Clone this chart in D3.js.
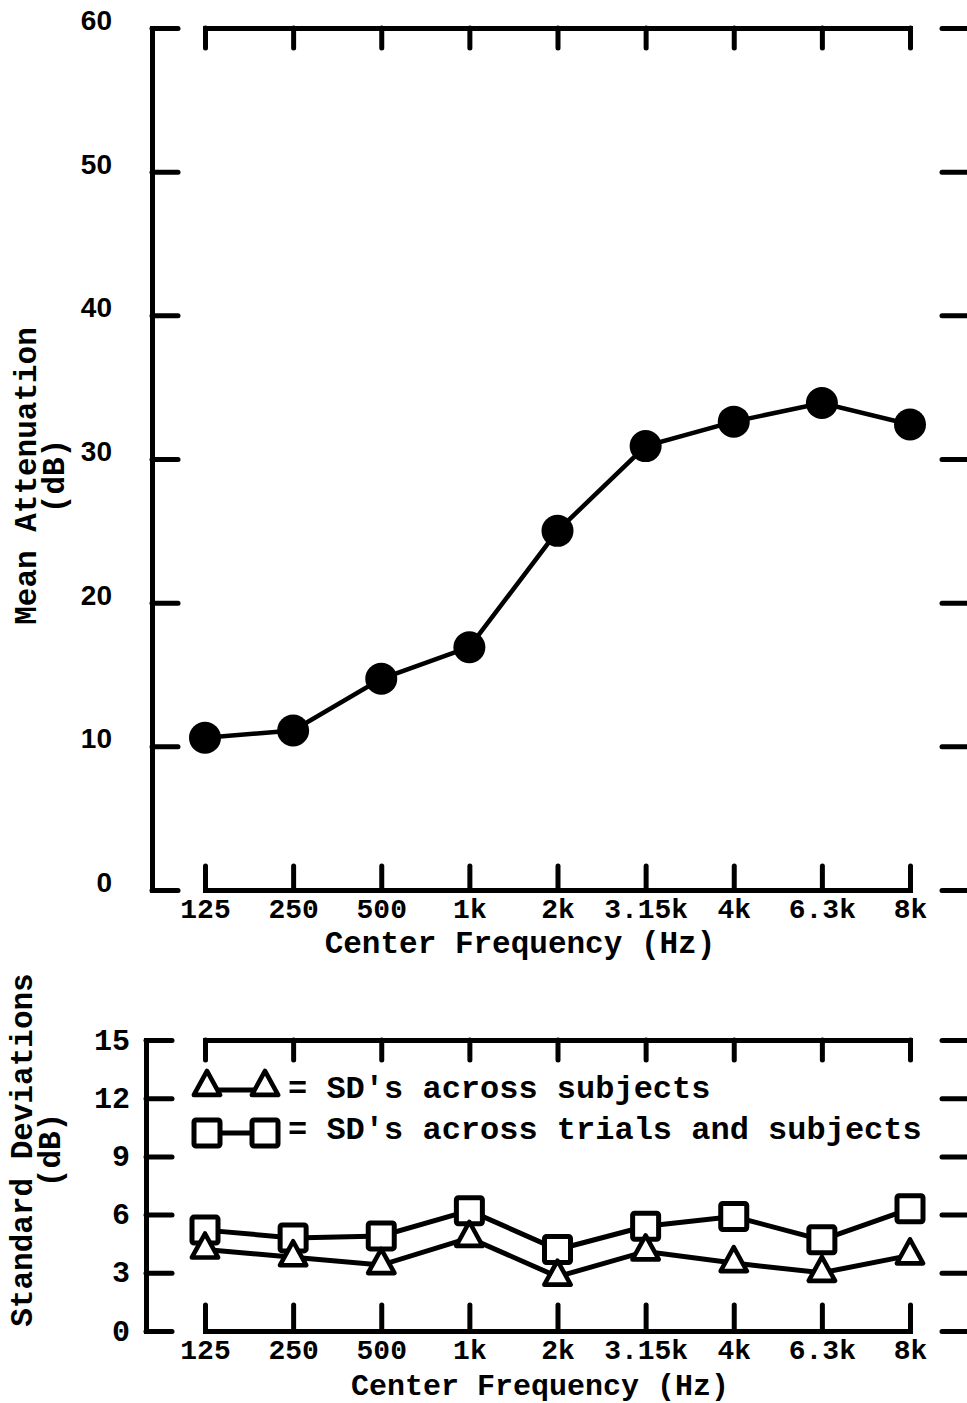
<!DOCTYPE html>
<html>
<head>
<meta charset="utf-8">
<script src="https://cdn.jsdelivr.net/npm/d3@7"></script>
<style>
  body { margin: 0; background: #fff; }
  svg { display: block; }
  text { font-family: "Liberation Mono", "DejaVu Sans Mono", monospace; fill: #000; }
</style>
</head>
<body>
<div id="chart"></div>
<script>
// data
const frequencies = ["125", "250", "500", "1k", "2k", "3.15k", "4k", "6.3k", "8k"];
const meanAttenuation = [10.6, 11.1, 14.7, 16.9, 25.0, 30.9, 32.6, 33.9, 32.4];
const sdSubjects = [4.2, 3.8, 3.4, 4.8, 2.8, 4.1, 3.5, 3.0, 3.9];
const sdTrialsSubjects = [5.2, 4.8, 4.9, 6.2, 4.2, 5.4, 5.9, 4.7, 6.3];
const attenTicks = [0, 10, 20, 30, 40, 50, 60];
const sdTicks = [0, 3, 6, 9, 12, 15];

const width = 967, height = 1403;
const svg = d3.select('#chart').append('svg')
    .attr('width', width)
    .attr('height', height);

const x = d3.scalePoint().domain(frequencies).range([205, 910]);

function frame(g, y, ticks, left, right, topY, bottomY, opts) {
    // top ticks (no labels)
    g.append('g')
        .attr('transform', `translate(0,${topY})`)
        .call(d3.axisTop(x).tickSize(-20).tickFormat(''));
    // bottom axis with labels
    g.append('g')
        .attr('class', 'xaxis')
        .attr('transform', `translate(0,${bottomY})`)
        .call(d3.axisBottom(x).tickSize(-opts.xTick).tickPadding(opts.xPad));
    // left axis
    g.append('g')
        .attr('class', 'yaxis')
        .attr('transform', `translate(${left},0)`)
        .call(d3.axisLeft(y).tickValues(ticks).tickSize(-26).tickPadding(opts.yPad));
    // right axis ticks
    g.append('g')
        .attr('transform', `translate(${right},0)`)
        .call(d3.axisRight(y).tickValues(ticks).tickSize(-28).tickFormat(''));

    g.selectAll('.domain')
        .attr('stroke', '#000')
        .attr('stroke-width', 5);
    g.selectAll('.tick line')
        .attr('stroke', '#000')
        .attr('stroke-width', 5)
        .attr('stroke-linecap', 'round');
    g.selectAll('.xaxis text')
        .style('font-size', '28px')
        .style('font-weight', 'bold')
        .style('font-family', '"Liberation Mono", monospace');
    g.selectAll('.yaxis text')
        .attr('dy', opts.yDy)
        .style('font-size', opts.yFont)
        .style('font-weight', 'bold')
        .style('font-family', opts.yFamily);
}

// ---- upper chart: mean attenuation
const upper = svg.append('g');
const yTop = d3.scaleLinear().domain([0, 60]).range([890, 28]);
frame(upper, yTop, attenTicks, 152, 970, 28, 890, {
    xTick: 24, xPad: 8, yPad: 40, yDy: '0.05em', yFont: '28px',
    yFamily: '"Liberation Sans", Arial, sans-serif'
});

const line = d3.line()
    .x((d, i) => x(frequencies[i]))
    .y(d => yTop(d));

upper.append('path')
    .datum(meanAttenuation)
    .attr('fill', 'none')
    .attr('stroke', '#000')
    .attr('stroke-width', 4.5)
    .attr('d', line);

upper.selectAll('circle.pt')
    .data(meanAttenuation)
    .join('circle')
    .attr('class', 'pt')
    .attr('cx', (d, i) => x(frequencies[i]))
    .attr('cy', d => yTop(d))
    .attr('r', 16)
    .attr('fill', '#000');

upper.append('text')
    .attr('x', 520).attr('y', 953)
    .attr('text-anchor', 'middle')
    .style('font-size', '31px')
    .style('font-weight', 'bold')
    .text('Center Frequency (Hz)');

upper.append('text')
    .attr('transform', 'translate(36,476) rotate(-90)')
    .attr('text-anchor', 'middle')
    .style('font-size', '31px')
    .style('font-weight', 'bold')
    .text('Mean Attenuation');
upper.append('text')
    .attr('transform', 'translate(64,476) rotate(-90)')
    .attr('text-anchor', 'middle')
    .style('font-size', '31px')
    .style('font-weight', 'bold')
    .text('(dB)');

// ---- lower chart: standard deviations
const lower = svg.append('g');
const yBot = d3.scaleLinear().domain([0, 15]).range([1331, 1040]);
frame(lower, yBot, sdTicks, 146, 970, 1040, 1331, {
    xTick: 26, xPad: 8, yPad: 16, yDy: '0.3em', yFont: '30px',
    yFamily: '"Liberation Mono", monospace'
});

const sdLine = d3.line().x((d, i) => x(frequencies[i])).y(d => yBot(d));

lower.append('path')
    .datum(sdTrialsSubjects)
    .attr('fill', 'none').attr('stroke', '#000').attr('stroke-width', 5)
    .attr('d', sdLine);
lower.append('path')
    .datum(sdSubjects)
    .attr('fill', 'none').attr('stroke', '#000').attr('stroke-width', 5)
    .attr('d', sdLine);

const sq = 26;
const triPath = d3.symbol().type(d3.symbolTriangle).size(300);

function square(g, cx, cy) {
    g.append('rect')
        .attr('x', cx - sq / 2).attr('y', cy - sq / 2)
        .attr('width', sq).attr('height', sq)
        .attr('rx', 2)
        .attr('fill', '#fff').attr('stroke', '#000').attr('stroke-width', 5);
}
function triangle(g, cx, cy) {
    g.append('path')
        .attr('d', triPath())
        .attr('transform', `translate(${cx},${cy}) scale(1,1.05)`)
        .attr('fill', '#fff').attr('stroke', '#000').attr('stroke-width', 4.5)
        .attr('stroke-linejoin', 'round');
}

sdTrialsSubjects.forEach((d, i) => square(lower, x(frequencies[i]), yBot(d)));
sdSubjects.forEach((d, i) => triangle(lower, x(frequencies[i]), yBot(d)));

// legend
const legend = lower.append('g');
legend.append('line').attr('x1', 205).attr('x2', 265).attr('y1', 1090).attr('y2', 1090)
    .attr('stroke', '#000').attr('stroke-width', 5);
triangle(legend, 207, 1087);
triangle(legend, 265, 1087);
legend.append('text').attr('x', 288).attr('y', 1098)
    .style('font-size', '32px').style('font-weight', 'bold')
    .text("= SD's across subjects");

legend.append('line').attr('x1', 207).attr('x2', 265).attr('y1', 1133).attr('y2', 1133)
    .attr('stroke', '#000').attr('stroke-width', 5);
square(legend, 207, 1133);
square(legend, 265, 1133);
legend.append('text').attr('x', 288).attr('y', 1139)
    .style('font-size', '32px').style('font-weight', 'bold')
    .text("= SD's across trials and subjects");

lower.append('text')
    .attr('x', 540).attr('y', 1395)
    .attr('text-anchor', 'middle')
    .style('font-size', '30px')
    .style('font-weight', 'bold')
    .text('Center Frequency (Hz)');

lower.append('text')
    .attr('transform', 'translate(32,1150) rotate(-90)')
    .attr('text-anchor', 'middle')
    .style('font-size', '31px')
    .style('font-weight', 'bold')
    .text('Standard Deviations');
lower.append('text')
    .attr('transform', 'translate(60,1150) rotate(-90)')
    .attr('text-anchor', 'middle')
    .style('font-size', '31px')
    .style('font-weight', 'bold')
    .text('(dB)');
</script>
</body>
</html>
